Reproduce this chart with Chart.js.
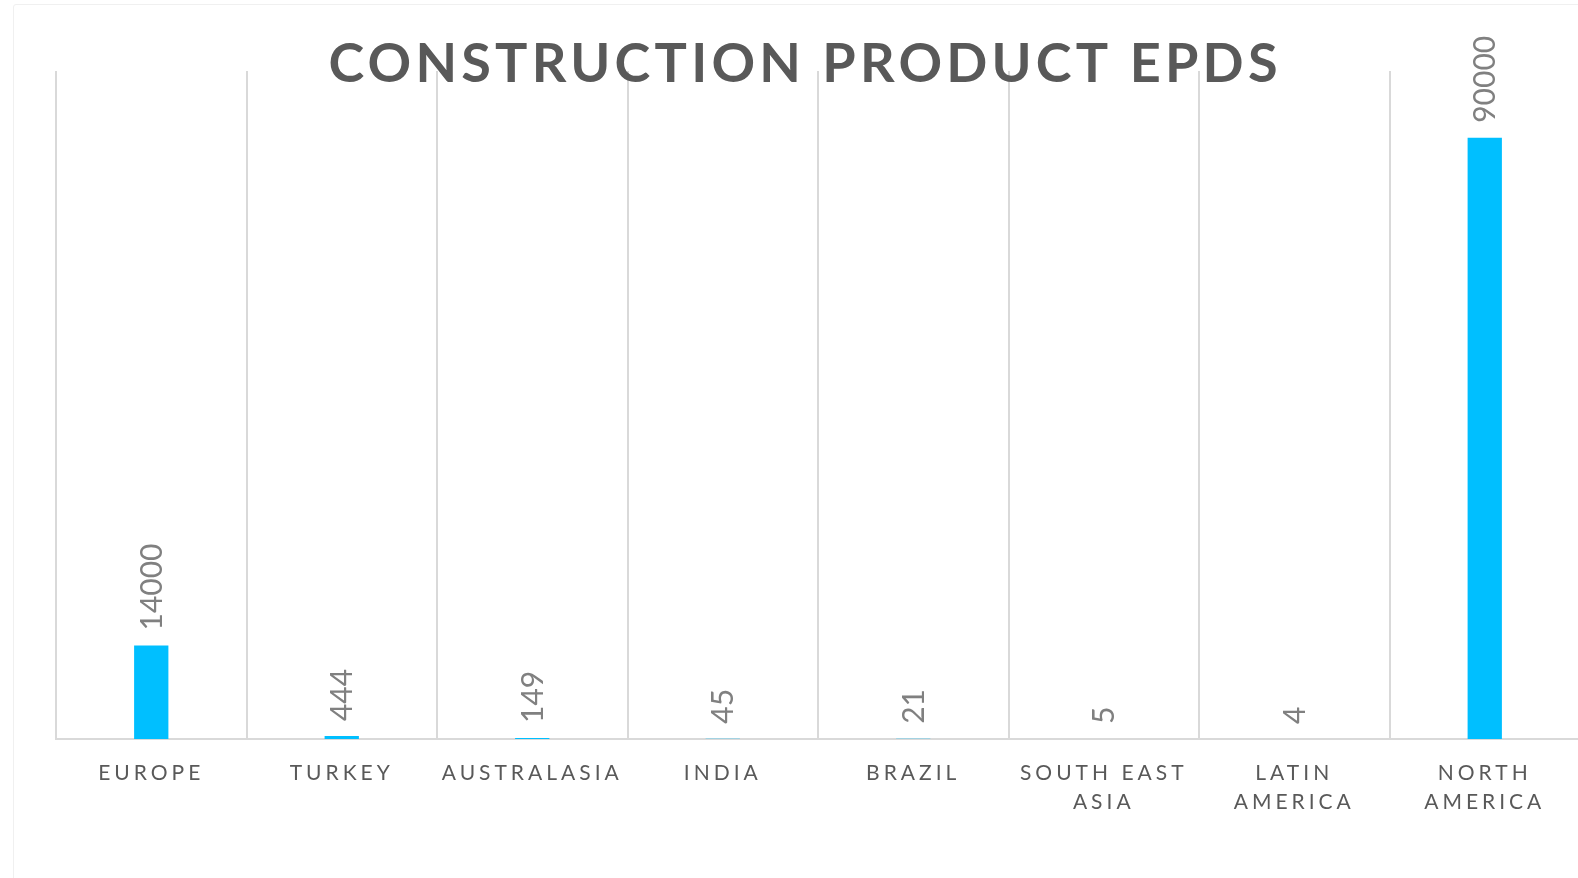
<!DOCTYPE html>
<html>
<head>
<meta charset="utf-8">
<title>Construction Product EPDs</title>
<script src="https://cdn.jsdelivr.net/npm/chart.js@4/dist/chart.umd.min.js"></script>
<style>
  html, body {
    margin: 0;
    padding: 0;
    background: #ffffff;
    overflow: hidden;
  }
  .frame {
    position: absolute;
    left: 13px;
    top: 4px;
    width: 1620px;
    height: 900px;
    border: 1px solid #f0f0f0;
    border-radius: 3px;
  }
  .chart-box {
    position: absolute;
    left: 0;
    top: 0;
    width: 1600px;
    height: 878px;
  }
</style>
</head>
<body>
<div class="frame"></div>
<div class="chart-box">
  <canvas id="epdChart"></canvas>
</div>
<script>
// Regions along the x axis
const regions = [
  'EUROPE',
  'TURKEY',
  'AUSTRALASIA',
  'INDIA',
  'BRAZIL',
  ['SOUTH EAST', 'ASIA'],
  ['LATIN', 'AMERICA'],
  ['NORTH', 'AMERICA']
];

// Number of EPDs per region
const epdCounts = [14000, 444, 149, 45, 21, 5, 4, 90000];

const chartTitle = 'CONSTRUCTION PRODUCT EPDS';
const yAxisMax = 100000;

const BAR_COLOR = '#00bfff';
const GRID_COLOR = '#d9d9d9';
const TEXT_COLOR = '#595959';
const VALUE_COLOR = '#808080';

/**
 * Wide letter spacing for the axis labels
 */
const letterSpacingPlugin = {
  id: 'letterSpacing',
  beforeDraw(chart) {
    chart.ctx.letterSpacing = '4px';
  },
  afterDraw(chart) {
    chart.ctx.letterSpacing = '0px';
  }
};

/**
 * Rotated value labels sitting above each bar
 */
const valueLabelPlugin = {
  id: 'valueLabels',
  afterDraw(chart) {
    const ctx = chart.ctx;
    const meta = chart.getDatasetMeta(0);
    ctx.save();
    ctx.letterSpacing = '0px';
    ctx.font = '400 30px Lato';
    ctx.fillStyle = VALUE_COLOR;
    ctx.textAlign = 'left';
    ctx.textBaseline = 'middle';
    meta.data.forEach((bar, i) => {
      ctx.save();
      ctx.translate(bar.x + 1, bar.y - 15);
      ctx.rotate(-Math.PI / 2);
      ctx.fillText(String(epdCounts[i]), 0, 0);
      ctx.restore();
    });
    ctx.restore();
  }
};

/**
 * Spaced-out bold title drawn over the top of the plot
 */
const titlePlugin = {
  id: 'spacedTitle',
  afterDraw(chart) {
    const ctx = chart.ctx;
    ctx.save();
    ctx.font = 'bold 54px Lato';
    ctx.letterSpacing = '0px';
    const targetWidth = 949;
    const natural = ctx.measureText(chartTitle).width;
    const spacing = Math.max(0, (targetWidth - natural) / (chartTitle.length - 1));
    ctx.letterSpacing = spacing + 'px';
    ctx.fillStyle = TEXT_COLOR;
    ctx.textAlign = 'left';
    ctx.textBaseline = 'alphabetic';
    ctx.fillText(chartTitle, 803 - targetWidth / 2, 82);
    ctx.restore();
  }
};

new Chart(document.getElementById('epdChart'), {
  type: 'bar',
  data: {
    labels: regions,
    datasets: [{
      data: epdCounts,
      backgroundColor: BAR_COLOR,
      borderWidth: 0,
      barPercentage: 0.18,
      categoryPercentage: 1.0
    }]
  },
  options: {
    responsive: true,
    maintainAspectRatio: false,
    animation: false,
    layout: {
      padding: { left: 56, right: 20, top: 71, bottom: 0 }
    },
    plugins: {
      legend: { display: false },
      title: { display: false },
      tooltip: { enabled: false }
    },
    scales: {
      x: {
        // axis line sits on top of the bars
        z: 1,
        offset: true,
        grid: {
          offset: true,
          color: GRID_COLOR,
          lineWidth: 2,
          drawTicks: false
        },
        border: {
          color: GRID_COLOR,
          width: 2
        },
        ticks: {
          color: TEXT_COLOR,
          font: { family: 'Lato', size: 21, lineHeight: 1.38 },
          padding: 20,
          maxRotation: 0,
          minRotation: 0,
          autoSkip: false
        },
        afterFit(scale) {
          scale.height = 139;
        }
      },
      y: {
        display: false,
        min: 0,
        max: yAxisMax
      }
    }
  },
  plugins: [letterSpacingPlugin, valueLabelPlugin, titlePlugin]
});
</script>
</body>
</html>
